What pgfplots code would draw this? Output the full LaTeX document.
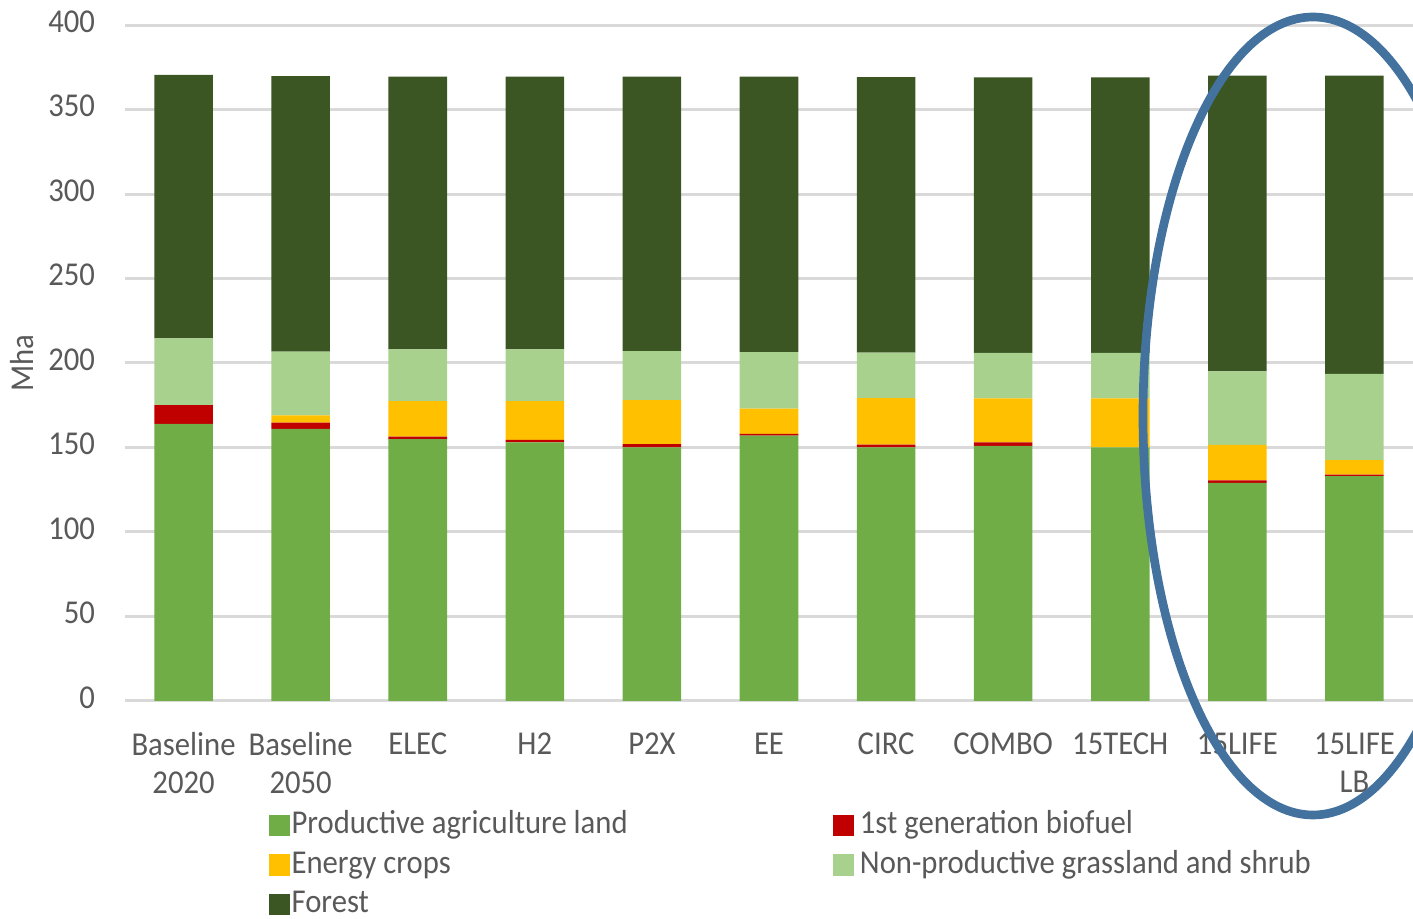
\documentclass[border=0pt]{standalone}
\usepackage{fontspec}
\setmainfont{Carlito}[FakeStretch=0.92]
\usepackage{pgfplots}
\pgfplotsset{compat=1.18}
\definecolor{agri}{HTML}{70AD47}
\definecolor{bio}{HTML}{C00000}
\definecolor{energy}{HTML}{FFC000}
\definecolor{nonprod}{HTML}{A9D18E}
\definecolor{forest}{HTML}{3B5523}
\definecolor{gridgray}{HTML}{D9D9D9}
\definecolor{textgray}{HTML}{595959}
\definecolor{ellblue}{HTML}{44729F}
\begin{document}
\begin{tikzpicture}
\path[use as bounding box] (0pt,0pt) rectangle (423.9pt,275.7pt);
\clip (0pt,0pt) rectangle (423.9pt,275.7pt);
\begin{axis}[
  at={(37.5pt,65.4pt)}, anchor=south west,
  scale only axis, width=386.4pt, height=202.8pt,
  ybar stacked, bar width=0.5,
  xmin=-0.5, xmax=10.5, ymin=0, ymax=400,
  xtick={0,...,10},
  xticklabels={{Baseline\\2020},{Baseline\\2050},ELEC,H2,P2X,EE,CIRC,COMBO,15TECH,{15LIFE},{15LIFE\\LB}},
  ytick={0,50,...,400},
  /pgf/number format/assume math mode=true,
  ymajorgrids, grid style={gridgray, line width=0.9pt},
  axis line style={draw=none},
  major tick length=0pt,
  tick label style={font=\fontsize{10}{11.4}\selectfont, text=textgray},
  xticklabel style={align=center, anchor=north, yshift=-6pt},
  yticklabel style={xshift=-5.5pt, yshift=1pt},
  ylabel={Mha},
  ylabel style={at={(axis description cs:-0.080,0.5)}, anchor=center, font=\fontsize{10}{12}\selectfont, text=textgray},
  legend columns=2,
  legend cell align=left,
  legend image code/.code={\fill[#1] (0pt,-3.2pt) rectangle (6.3pt,3.2pt);},
  legend style={at={(axis description cs:0.111,-0.158)}, anchor=north west,
    draw=none, fill=none, inner sep=0pt, row sep=1.4pt, column sep=0pt,
    font=\fontsize{10}{12}\selectfont, text=textgray,
    nodes={inner sep=0.6pt, text height=7pt, text depth=2.2pt},
    /tikz/every even column/.style={column sep=0pt}},
]
\addplot[fill=agri, draw=none] coordinates {(0,164) (1,161) (2,155) (3,153) (4,150) (5,157) (6,150) (7,151) (8,150) (9,129) (10,133)};
\addlegendentry{\makebox[161.8pt][l]{Productive agriculture land}}
\addplot[fill=bio, draw=none] coordinates {(0,11) (1,3.7) (2,1.5) (3,1.5) (4,2) (5,1) (6,1.7) (7,2) (8,0) (9,1.5) (10,1)};
\addlegendentry{\hspace{1.2pt}1st generation biofuel}
\addplot[fill=energy, draw=none] coordinates {(0,0) (1,4.3) (2,21) (3,23) (4,26) (5,15) (6,27.5) (7,26) (8,29) (9,21) (10,8.5)};
\addlegendentry{\makebox[161.8pt][l]{Energy crops}}
\addplot[fill=nonprod, draw=none] coordinates {(0,39.5) (1,37.7) (2,30.5) (3,30.5) (4,29) (5,33.5) (6,27) (7,27) (8,27) (9,43.5) (10,51)};
\addlegendentry{\hspace{1.2pt}Non-productive grassland and shrub}
\addplot[fill=forest, draw=none] coordinates {(0,156) (1,163) (2,161.5) (3,161.5) (4,162.5) (5,163) (6,163) (7,163) (8,163) (9,175) (10,176.5)};
\addlegendentry{Forest}
\end{axis}
\draw[line width=2.6pt, ellblue] (393.9pt,150.9pt) ellipse [x radius=51pt, y radius=119.7pt];
\end{tikzpicture}
\end{document}
